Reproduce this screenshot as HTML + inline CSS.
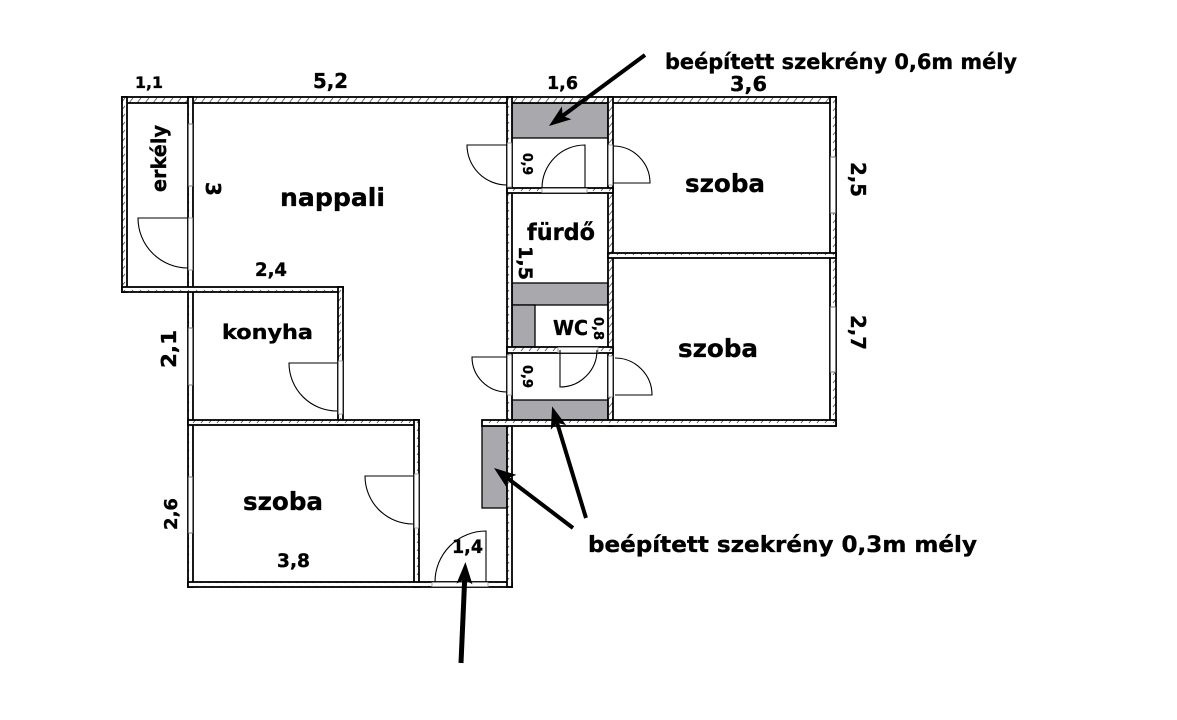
<!DOCTYPE html>
<html><head><meta charset="utf-8"><style>
html,body{margin:0;padding:0;background:#fff;}
svg{display:block;}
text{font-family:"DejaVu Sans","Liberation Sans",sans-serif;font-weight:bold;fill:#000;stroke:#000;stroke-width:0.35;}
.w{fill:url(#h);stroke:#000;stroke-width:1.8;}
.g{fill:#a9a9ad;stroke:#000;stroke-width:1.3;}
.fr{fill:#fff;stroke:#999;stroke-width:0.9;}
.win{fill:#fff;stroke:#777;stroke-width:1;}
.d{fill:none;stroke:#000;stroke-width:1.1;}
.ar{stroke:#000;stroke-width:4;fill:none;}
</style></head><body>
<svg width="1177" height="720" viewBox="0 0 1177 720" xmlns="http://www.w3.org/2000/svg">
<defs>
<pattern id="h" patternUnits="userSpaceOnUse" width="8" height="8">
<rect width="8" height="8" fill="#fff"/>
<path d="M1,7 L5,2" stroke="#555" stroke-width="0.9"/>
</pattern>
<marker id="m" markerUnits="userSpaceOnUse" markerWidth="30" markerHeight="24" viewBox="-2 -12 30 24" refX="12" refY="0" orient="auto">
<path d="M0,-8 L22,0 L0,8 L5,0 z" fill="#000"/>
</marker>
</defs>
<rect width="1177" height="720" fill="#fff"/>

<!-- gray cabinets -->
<rect class="g" x="512" y="103" width="96" height="35"/>
<rect class="g" x="512" y="283" width="96" height="22"/>
<rect class="g" x="512" y="305" width="23" height="42"/>
<rect class="g" x="512" y="400" width="96" height="20"/>
<rect class="g" x="482" y="426" width="25" height="82"/>

<!-- walls -->
<rect class="w" x="122" y="97" width="714" height="6"/>
<rect class="w" x="122" y="97" width="5" height="195"/>
<rect class="w" x="188" y="97" width="5" height="490"/>
<rect class="w" x="122" y="287" width="221" height="5"/>
<rect class="w" x="338" y="287" width="5" height="138"/>
<rect class="w" x="188" y="420" width="231" height="5"/>
<rect class="w" x="414" y="420" width="5" height="167"/>
<rect class="w" x="188" y="582" width="324" height="5"/>
<rect class="w" x="507" y="97" width="5" height="490"/>
<rect class="w" x="608" y="97" width="5" height="329"/>
<rect class="w" x="830" y="97" width="6" height="329"/>
<rect class="w" x="608" y="253" width="228" height="5"/>
<rect class="w" x="482" y="420" width="354" height="6"/>
<rect class="w" x="507" y="188" width="106" height="5"/>
<rect class="w" x="507" y="347" width="106" height="6"/>

<!-- windows -->
<rect class="win" x="188.5" y="124" width="4" height="62"/>
<rect class="win" x="188.5" y="328" width="4" height="57"/>
<rect class="win" x="188.5" y="477" width="4" height="56"/>
<rect class="win" x="830.5" y="157" width="5" height="56"/>
<rect class="win" x="830.5" y="307" width="5" height="65"/>

<!-- door frames -->
<rect class="fr" x="188.5" y="218" width="4" height="52"/>
<rect class="fr" x="507.5" y="143" width="4" height="44"/>
<rect class="fr" x="608.5" y="145" width="4" height="40"/>
<rect class="fr" x="542" y="188.5" width="45" height="4"/>
<rect class="fr" x="338.5" y="361" width="4" height="53"/>
<rect class="fr" x="414.5" y="474" width="4" height="54"/>
<rect class="fr" x="432" y="582.5" width="56" height="4"/>
<rect class="fr" x="507.5" y="355" width="4" height="40"/>
<rect class="fr" x="608.5" y="356" width="4" height="41"/>
<rect class="fr" x="558" y="347.5" width="40" height="5"/>

<!-- door swings -->
<path class="d" d="M188,218 L138,218 A50,50 0 0,0 188,268"/>
<path class="d" d="M507,145 L467,145 A40,40 0 0,0 507,185"/>
<path class="d" d="M613,183 L650,183 A37,37 0 0,0 613,146"/>
<path class="d" d="M585,188 L585,145 A43,43 0 0,0 542,188"/>
<path class="d" d="M337,363 L289,363 A48,48 0 0,0 337,411"/>
<path class="d" d="M413,476 L365,476 A48,48 0 0,0 413,524"/>
<path class="d" d="M486,582 L486,531 A51,51 0 0,0 435,582"/>
<path class="d" d="M507,357 L472,357 A35,35 0 0,0 507,392"/>
<path class="d" d="M615,395 L652,395 A37,37 0 0,0 615,358"/>
<path class="d" d="M560,350 L560,387 A37,37 0 0,0 597,350"/>

<!-- room labels -->
<text x="280" y="206" font-size="25" textLength="105" lengthAdjust="spacingAndGlyphs">nappali</text>
<text x="685" y="192" font-size="25" textLength="80" lengthAdjust="spacingAndGlyphs">szoba</text>
<text x="678" y="357" font-size="25" textLength="80" lengthAdjust="spacingAndGlyphs">szoba</text>
<text x="243" y="510" font-size="25" textLength="80" lengthAdjust="spacingAndGlyphs">szoba</text>
<text x="222" y="339" font-size="20" textLength="91" lengthAdjust="spacingAndGlyphs">konyha</text>
<text x="527" y="240" font-size="23" textLength="68" lengthAdjust="spacingAndGlyphs">fürdő</text>
<text x="553" y="335" font-size="20" textLength="35" lengthAdjust="spacingAndGlyphs">WC</text>
<text transform="translate(166,192) rotate(-90)" font-size="20" textLength="67" lengthAdjust="spacingAndGlyphs">erkély</text>

<!-- dimensions -->
<text x="135" y="88" font-size="16" textLength="28" lengthAdjust="spacingAndGlyphs">1,1</text>
<text x="313" y="88" font-size="20" textLength="35" lengthAdjust="spacingAndGlyphs">5,2</text>
<text x="547" y="89" font-size="18" textLength="31" lengthAdjust="spacingAndGlyphs">1,6</text>
<text x="730" y="91" font-size="20" textLength="37" lengthAdjust="spacingAndGlyphs">3,6</text>
<text x="255" y="276" font-size="19" textLength="32" lengthAdjust="spacingAndGlyphs">2,4</text>
<text x="277" y="567" font-size="19" textLength="33" lengthAdjust="spacingAndGlyphs">3,8</text>
<text x="452" y="553" font-size="19" textLength="31" lengthAdjust="spacingAndGlyphs">1,4</text>
<text transform="translate(206,182) rotate(90)" font-size="20">3</text>
<text transform="translate(851,162) rotate(90)" font-size="20" textLength="35" lengthAdjust="spacingAndGlyphs">2,5</text>
<text transform="translate(851,315) rotate(90)" font-size="20" textLength="35" lengthAdjust="spacingAndGlyphs">2,7</text>
<text transform="translate(523,153) rotate(90)" font-size="13" textLength="22" lengthAdjust="spacingAndGlyphs">0,9</text>
<text transform="translate(523,365) rotate(90)" font-size="13" textLength="23" lengthAdjust="spacingAndGlyphs">0,9</text>
<text transform="translate(594,317) rotate(90)" font-size="13" textLength="23" lengthAdjust="spacingAndGlyphs">0,8</text>
<text transform="translate(519,246) rotate(90)" font-size="19" textLength="34" lengthAdjust="spacingAndGlyphs">1,5</text>
<text transform="translate(176,368) rotate(-90)" font-size="20" textLength="38" lengthAdjust="spacingAndGlyphs">2,1</text>
<text transform="translate(177,530) rotate(-90)" font-size="18" textLength="32" lengthAdjust="spacingAndGlyphs">2,6</text>

<!-- annotations -->
<text x="665" y="69" font-size="21" textLength="352" lengthAdjust="spacingAndGlyphs">beépített szekrény 0,6m mély</text>
<text x="588" y="552" font-size="22" textLength="389" lengthAdjust="spacingAndGlyphs">beépített szekrény 0,3m mély</text>

<!-- arrows -->
<line class="ar" x1="645" y1="55" x2="557" y2="120" marker-end="url(#m)"/>
<line class="ar" x1="586" y1="518" x2="555" y2="416" marker-end="url(#m)"/>
<line class="ar" x1="573" y1="528" x2="502" y2="474" marker-end="url(#m)"/>
<line class="ar" x1="461" y1="663" x2="465" y2="572" marker-end="url(#m)" style="stroke-width:5"/>
</svg>
</body></html>
